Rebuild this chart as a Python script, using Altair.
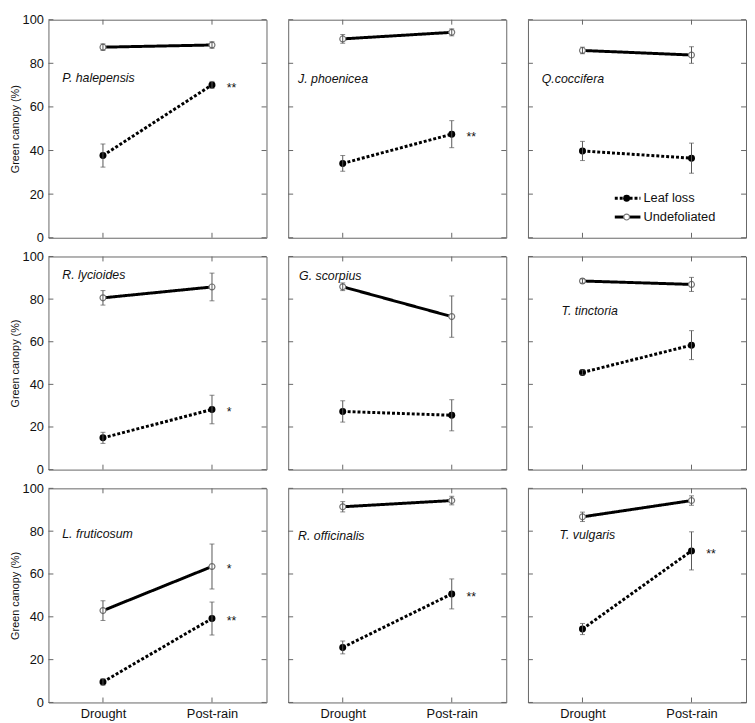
import altair as alt
import pandas as pd

# ---------------- data ----------------
species = ["P. halepensis", "J. phoenicea", "Q.coccifera",
           "R. lycioides", "G. scorpius", "T. tinctoria",
           "L. fruticosum", "R. officinalis", "T. vulgaris"]
periods = ["Drought", "Post-rain"]
series_names = ["Leaf loss", "Undefoliated"]

undef_mean = [[87.4, 88.4], [91.2, 94.2], [85.9, 83.8],
              [80.6, 85.7], [85.8, 71.8], [88.5, 86.9],
              [42.9, 63.5], [91.4, 94.3], [86.7, 94.3]]
undef_err = [[1.5, 1.5], [2.0, 1.6], [1.5, 3.8],
             [3.4, 6.5], [1.8, 9.7], [1.0, 3.3],
             [4.6, 10.5], [2.4, 2.0], [2.2, 2.2]]
leaf_mean = [[37.7, 70.1], [34.1, 47.5], [39.8, 36.5],
             [14.9, 28.2], [27.3, 25.5], [45.6, 58.4],
             [9.6, 39.2], [25.7, 50.7], [34.3, 70.8]]
leaf_err = [[5.3, 1.6], [3.6, 6.2], [4.4, 6.9],
            [2.6, 6.7], [5.0, 7.3], [1.2, 6.8],
            [1.5, 7.7], [3.0, 7.0], [2.6, 8.9]]
leaf_sig = ["**", "**", "", "*", "", "", "**", "**", "**"]
undef_sig = ["", "", "", "", "", "", "*", "", ""]

ytick_vals = [0, 20, 40, 60, 80, 100]

# ---------------- annotation placement (not data) ----------------
label_dx = [14, 10, 14, 14, 11, 34, 14, 10, 32]
label_y = [73.4, 73.0, 73.0, 91.5, 91.0, 74.3, 78.5, 77.5, 78.0]

FONT = "Liberation Sans"
widths = [221, 221, 221]
heights = [221, 216, 217]
BORDER = "#666666"
ERR = "#555555"


def make_panel(i):
    r, c = divmod(i, 3)
    w, h = widths[c], heights[r]
    xscale = alt.Scale(type="point", domain=periods, padding=0.5)
    yscale = alt.Scale(domain=[0, 100], nice=False, zero=False)
    if r == 2:
        xaxis = alt.Axis(labelAngle=0, ticks=False, domain=False, grid=False,
                         labelFontSize=13, labelPadding=5, labelColor="#111111")
    else:
        xaxis = None
    if c == 0:
        yaxis = alt.Axis(values=ytick_vals, ticks=False, domain=False, grid=False,
                         labelFontSize=13, labelPadding=5, labelColor="#111111",
                         title="Green canopy (%)", titleFontSize=11,
                         titleFontWeight="normal", titlePadding=2,
                         titleColor="#111111")
    else:
        yaxis = None

    def X():
        return alt.X("period:N", scale=xscale, axis=xaxis, title=None)

    def Y(field):
        return alt.Y(f"{field}:Q", scale=yscale, axis=yaxis)

    rows = []
    for s, means, errs in [("Leaf loss", leaf_mean[i], leaf_err[i]),
                           ("Undefoliated", undef_mean[i], undef_err[i])]:
        for p, m, e in zip(periods, means, errs):
            rows.append({"period": p, "series": s, "y": m, "lo": m - e, "hi": m + e})
    df = pd.DataFrame(rows)

    caps = pd.concat([df[["period", "lo"]].rename(columns={"lo": "y"}),
                      df[["period", "hi"]].rename(columns={"hi": "y"})])

    layers = []
    # lines
    layers.append(alt.Chart(df).mark_line(color="black", strokeWidth=3).encode(
        x=X(), y=Y("y"),
        strokeDash=alt.StrokeDash("series:N",
                                  scale=alt.Scale(domain=series_names, range=[[3, 2], [1, 0]]),
                                  legend=None)))
    # points
    layers.append(alt.Chart(df[df.series == "Leaf loss"]).mark_point(
        shape="circle", filled=True, color="black", size=50, opacity=1).encode(x=X(), y=Y("y")))
    layers.append(alt.Chart(df[df.series == "Undefoliated"]).mark_point(
        shape="circle", filled=True, color="white", stroke="#777777", strokeWidth=1.2,
        size=36, opacity=1).encode(x=X(), y=Y("y")))
    # error bars
    layers.append(alt.Chart(df).mark_rule(color=ERR, strokeWidth=1).encode(
        x=X(), y=Y("lo"), y2="hi:Q"))
    layers.append(alt.Chart(caps).mark_tick(color=ERR, thickness=1, size=5,
                                            orient="horizontal").encode(x=X(), y=Y("y")))
    # species label
    lab = pd.DataFrame({"y": [label_y[i]], "t": [species[i]]})
    layers.append(alt.Chart(lab).mark_text(align="left", baseline="middle", fontStyle="italic",
                                           fontSize=12.5, font=FONT, color="#111111").encode(
        x=alt.value(label_dx[i]), y=Y("y"), text="t:N"))
    # significance stars
    sig_rows = []
    if leaf_sig[i]:
        sig_rows.append({"period": "Post-rain", "y": leaf_mean[i][1], "t": leaf_sig[i]})
    if undef_sig[i]:
        sig_rows.append({"period": "Post-rain", "y": undef_mean[i][1], "t": undef_sig[i]})
    if sig_rows:
        layers.append(alt.Chart(pd.DataFrame(sig_rows)).mark_text(
            align="left", baseline="middle", dx=15, dy=3, fontSize=12.5, font=FONT,
            color="#111111").encode(x=X(), y=Y("y"), text="t:N"))
    # inward ticks
    yt = pd.DataFrame({"y": ytick_vals})
    xt = pd.DataFrame({"period": periods})
    layers.append(alt.Chart(yt).mark_rule(color=BORDER, strokeWidth=1).encode(
        y=Y("y"), x=alt.value(0), x2=alt.value(5)))
    layers.append(alt.Chart(yt).mark_rule(color=BORDER, strokeWidth=1).encode(
        y=Y("y"), x=alt.value(w - 5), x2=alt.value(w)))
    layers.append(alt.Chart(xt).mark_rule(color=BORDER, strokeWidth=1).encode(
        x=X(), y=alt.value(0), y2=alt.value(5)))
    layers.append(alt.Chart(xt).mark_rule(color=BORDER, strokeWidth=1).encode(
        x=X(), y=alt.value(h - 5), y2=alt.value(h)))

    # legend (drawn inside the Q.coccifera panel)
    if i == 2:
        one = pd.DataFrame({"k": [0]})
        ly = [181, 200]
        layers.append(alt.Chart(one).mark_rule(color="black", strokeWidth=3, strokeDash=[3, 2]).encode(
            x=alt.value(88), x2=alt.value(114), y=alt.value(ly[0])))
        layers.append(alt.Chart(one).mark_rule(color="black", strokeWidth=3).encode(
            x=alt.value(88), x2=alt.value(114), y=alt.value(ly[1])))
        layers.append(alt.Chart(one).mark_point(shape="circle", filled=True, color="black",
                                                size=50, opacity=1).encode(
            x=alt.value(100), y=alt.value(ly[0])))
        layers.append(alt.Chart(one).mark_point(shape="circle", filled=True, color="white",
                                                stroke="#777777", strokeWidth=1.2, size=36,
                                                opacity=1).encode(
            x=alt.value(100), y=alt.value(ly[1])))
        leg = pd.DataFrame({"t": series_names})
        layers.append(alt.Chart(leg[leg.t == "Leaf loss"]).mark_text(
            align="left", baseline="middle", fontSize=13, font=FONT, color="#111111").encode(
            x=alt.value(117), y=alt.value(ly[0]), text="t:N"))
        layers.append(alt.Chart(leg[leg.t == "Undefoliated"]).mark_text(
            align="left", baseline="middle", fontSize=13, font=FONT, color="#111111").encode(
            x=alt.value(117), y=alt.value(ly[1]), text="t:N"))

    return alt.layer(*layers).properties(width=w, height=h)


rows_charts = [alt.hconcat(*[make_panel(3 * r + c) for c in range(3)], spacing=22, bounds="flush")
               for r in range(3)]

chart = alt.vconcat(*rows_charts, spacing=4).properties(padding=0).configure(
    font=FONT, background="white"
).configure_view(stroke=BORDER, strokeWidth=1)

chart.save("out.html", embed_options={"renderer": "svg", "actions": False})
